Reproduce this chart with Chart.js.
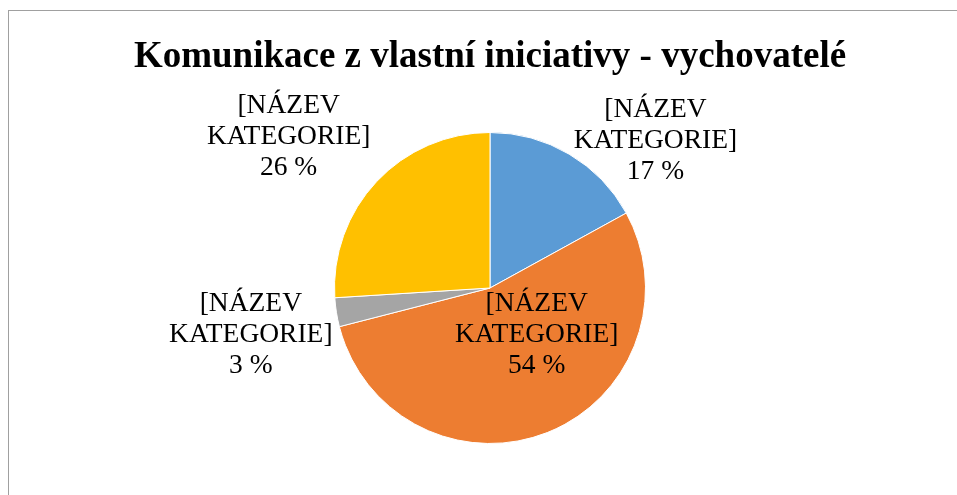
<!DOCTYPE html>
<html>
<head>
<meta charset="utf-8">
<title>Komunikace z vlastní iniciativy - vychovatelé</title>
<script src="https://cdn.jsdelivr.net/npm/chart.js@4.4.0/dist/chart.umd.min.js"></script>
<style>
	html, body { margin: 0; padding: 0; background: #fff; overflow: hidden; }
	#wrap { position: relative; width: 957px; height: 495px; }
	#frame { position: absolute; left: 8px; top: 10px; width: 1000px; height: 600px;
		border-left: 1px solid #a0a0a0; border-top: 1px solid #a0a0a0; }
	canvas { position: absolute; left: 0; top: 0; }
</style>
</head>
<body>
<div id="wrap">
	<div id="frame"></div>
	<canvas id="canvas" width="957" height="495"></canvas>
</div>
<script>
var chartTitle = "Komunikace z vlastní iniciativy - vychovatelé";
var categories = ["[NÁZEV KATEGORIE]", "[NÁZEV KATEGORIE]", "[NÁZEV KATEGORIE]", "[NÁZEV KATEGORIE]"];
var values = [17, 54, 3, 26];
var colors = ['#5B9BD5', '#ED7D31', '#A5A5A5', '#FFC000'];

// where each label block sits, relative to the pie centre, in radius units
var labelOffsets = [[1.064, -0.949], [0.30, 0.30], [-1.538, 0.30], [-1.295, -0.974]];

var pieLabels = {
	id: 'pieLabels',
	afterDatasetsDraw: function(chart) {
		var ctx = chart.ctx;
		var meta = chart.getDatasetMeta(0);
		var data = chart.data.datasets[0].data;
		var total = 0;
		for (var i = 0; i < data.length; i++) total += data[i];
		ctx.save();
		ctx.font = '27.5px "Liberation Serif", "Times New Roman", serif';
		ctx.fillStyle = '#000';
		ctx.textAlign = 'center';
		ctx.textBaseline = 'middle';
		for (var j = 0; j < meta.data.length; j++) {
			var arc = meta.data[j];
			var cx = arc.x + labelOffsets[j][0] * arc.outerRadius;
			var cy = arc.y + labelOffsets[j][1] * arc.outerRadius;
			var words = chart.data.labels[j].split(' ');
			var lines = [words[0], words[1], Math.round(data[j] / total * 100) + ' %'];
			for (var k = 0; k < lines.length; k++) {
				ctx.fillText(lines[k], cx, cy + (k - 1) * 31);
			}
		}
		ctx.restore();
	}
};

window.onload = function() {
	var ctx = document.getElementById('canvas');
	window.myPie = new Chart(ctx, {
		type: 'pie',
		data: {
			labels: categories,
			datasets: [{
				data: values,
				backgroundColor: colors,
				borderColor: '#ffffff',
				borderWidth: 1
			}]
		},
		options: {
			responsive: false,
			animation: false,
			layout: {
				padding: { left: 23, right: 0, top: 0, bottom: 51 }
			},
			plugins: {
				legend: { display: false },
				tooltip: { enabled: false },
				title: {
					display: true,
					text: chartTitle,
					color: '#000',
					font: { family: '"Liberation Serif", "Times New Roman", serif', size: 37, weight: 'bold', lineHeight: 1.2 },
					padding: { top: 35, bottom: 52.6 }
				}
			}
		},
		plugins: [pieLabels]
	});
};
</script>
</body>
</html>
